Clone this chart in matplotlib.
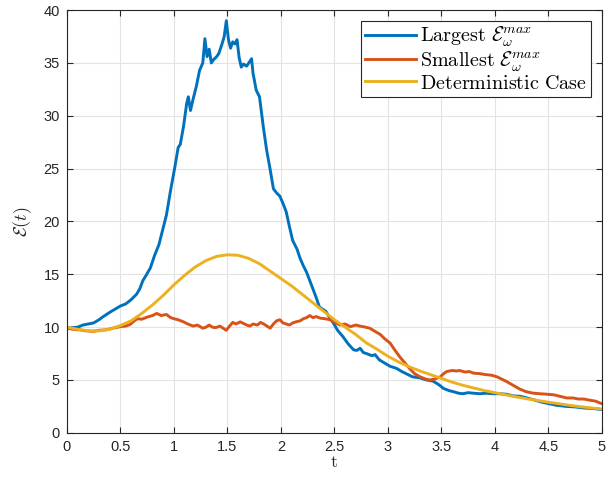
import numpy as np
import matplotlib
matplotlib.use('Agg')
import matplotlib.pyplot as plt

plt.rcParams['font.family'] = ['Liberation Sans', 'DejaVu Sans']
plt.rcParams['mathtext.fontset'] = 'cm'

# Largest E_w^max realisation
t_blue = [0.00, 0.05, 0.10, 0.15, 0.20, 0.25, 0.30, 0.34, 0.40, 0.45, 0.50, 0.55, 0.60, 0.65, 0.68,
          0.71, 0.74, 0.78, 0.82, 0.86, 0.90, 0.93, 0.97, 1.01, 1.04, 1.06, 1.09, 1.12, 1.135, 1.155,
          1.18, 1.21, 1.24, 1.27, 1.29, 1.31, 1.33, 1.35, 1.37, 1.40, 1.42, 1.45, 1.47, 1.49, 1.51,
          1.53, 1.55, 1.57, 1.59, 1.61, 1.63, 1.65, 1.68, 1.70, 1.726, 1.74, 1.77, 1.80, 1.835,
          1.866, 1.90, 1.93, 1.96, 1.99, 2.02, 2.05, 2.08, 2.11, 2.15, 2.18, 2.21,
          2.24, 2.27, 2.30, 2.33, 2.36, 2.39, 2.42, 2.45, 2.49, 2.53, 2.58, 2.63, 2.68, 2.71, 2.74,
          2.77, 2.80, 2.85, 2.88, 2.92, 2.97, 3.02, 3.08, 3.13, 3.17, 3.23, 3.30, 3.36, 3.42, 3.47,
          3.52, 3.57, 3.61, 3.66, 3.70, 3.75, 3.80, 3.86, 3.92, 3.98, 4.04, 4.11, 4.17, 4.24, 4.30,
          4.37, 4.44, 4.51, 4.58, 4.67, 4.75, 4.83, 4.92, 5.00]
e_blue = [9.9, 9.95, 10.0, 10.2, 10.3, 10.4, 10.7, 11.0, 11.4, 11.7, 12.0, 12.2, 12.6, 13.1, 13.6,
          14.4, 14.9, 15.6, 16.8, 17.8, 19.4, 20.6, 23.0, 25.2, 27.0, 27.3, 29.0, 31.2, 31.8, 30.5,
          31.6, 32.8, 34.3, 35.0, 37.3, 35.6, 36.3, 35.0, 35.3, 35.6, 35.9, 36.8, 37.5, 39.0, 37.2,
          36.4, 37.0, 36.8, 37.2, 35.5, 34.6, 34.9, 34.7, 35.0, 35.4, 34.0, 32.4, 31.8, 29.0,
          26.8, 24.9, 23.1, 22.7, 22.4, 21.7, 20.9, 19.5, 18.2, 17.4, 16.5, 15.8,
          15.2, 14.4, 13.6, 12.8, 11.9, 11.7, 11.5, 11.0, 10.4, 9.7, 9.1, 8.4, 7.85, 7.8, 8.0,
          7.6, 7.5, 7.3, 7.4, 6.9, 6.6, 6.3, 6.1, 5.8, 5.6, 5.3, 5.2, 5.0, 4.9, 4.6,
          4.2, 4.0, 3.9, 3.75, 3.7, 3.8, 3.75, 3.7, 3.75, 3.7, 3.7, 3.65, 3.5, 3.45, 3.3,
          3.1, 2.9, 2.75, 2.6, 2.5, 2.45, 2.35, 2.3, 2.2]

# Smallest E_w^max realisation
t_red = [0.00, 0.06, 0.12, 0.18, 0.25, 0.30, 0.37, 0.43, 0.50, 0.55, 0.59, 0.63, 0.66, 0.70, 0.75,
         0.80, 0.84, 0.88, 0.93, 0.97, 1.00, 1.04, 1.09, 1.13, 1.18, 1.22, 1.27, 1.30, 1.33, 1.36,
         1.39, 1.43, 1.46, 1.49, 1.52, 1.55, 1.58, 1.62, 1.65, 1.68, 1.71, 1.74, 1.78, 1.81, 1.84,
         1.87, 1.90, 1.93, 1.96, 1.99, 2.02, 2.05, 2.08, 2.11, 2.14, 2.18, 2.21, 2.24, 2.27, 2.30,
         2.33, 2.37, 2.41, 2.46, 2.50, 2.55, 2.60, 2.65, 2.70, 2.74, 2.79, 2.83, 2.88, 2.93, 2.97,
         3.02, 3.06, 3.11, 3.16, 3.21, 3.25, 3.30, 3.35, 3.39, 3.44, 3.49, 3.52, 3.55, 3.60, 3.64,
         3.67, 3.72, 3.76, 3.80, 3.86, 3.92, 3.97, 4.02, 4.06, 4.11, 4.17, 4.23, 4.29, 4.36, 4.42,
         4.49, 4.55, 4.61, 4.67, 4.73, 4.78, 4.83, 4.88, 4.94, 5.00]
e_red = [9.9, 9.8, 9.74, 9.65, 9.6, 9.7, 9.75, 9.9, 10.05, 10.1, 10.25, 10.6, 10.8, 10.75, 10.95,
         11.1, 11.3, 11.1, 11.2, 10.9, 10.8, 10.7, 10.5, 10.3, 10.1, 10.2, 9.9, 10.0, 10.2, 10.0,
         9.95, 10.1, 9.9, 9.7, 10.1, 10.45, 10.3, 10.5, 10.35, 10.2, 10.1, 10.3, 10.2, 10.45, 10.3,
         10.1, 9.9, 10.3, 10.6, 10.7, 10.4, 10.3, 10.2, 10.4, 10.5, 10.6, 10.8, 10.9, 11.1, 10.9,
         11.0, 10.85, 10.8, 10.7, 10.5, 10.2, 10.3, 10.05, 10.2, 10.1, 10.0, 9.9, 9.6, 9.3, 8.9,
         8.5, 7.9, 7.2, 6.6, 6.0, 5.6, 5.3, 5.1, 5.0, 5.1, 5.3, 5.6, 5.8, 5.9, 5.85,
         5.9, 5.75, 5.8, 5.65, 5.6, 5.5, 5.45, 5.3, 5.1, 4.85, 4.5, 4.15, 3.9, 3.75, 3.7,
         3.65, 3.6, 3.45, 3.3, 3.3, 3.2, 3.2, 3.1, 3.0, 2.75]

# Deterministic case
t_det = [0.0, 0.1, 0.2, 0.3, 0.4, 0.5, 0.6, 0.7, 0.8, 0.9, 1.0, 1.1, 1.2, 1.3, 1.4, 1.5, 1.6,
         1.7, 1.8, 1.9, 2.0, 2.1, 2.2, 2.3, 2.4, 2.5, 2.6, 2.7, 2.8, 2.9, 3.0, 3.1, 3.2, 3.3,
         3.4, 3.5, 3.6, 3.7, 3.8, 3.9, 4.0, 4.1, 4.2, 4.3, 4.4, 4.5, 4.6, 4.7, 4.8, 4.9, 5.0]
e_det = [10.0, 9.8, 9.65, 9.65, 9.8, 10.15, 10.6, 11.3, 12.1, 13.0, 14.0, 14.9, 15.7, 16.3, 16.7,
         16.85, 16.8, 16.5, 16.0, 15.3, 14.6, 13.9, 13.1, 12.3, 11.5, 10.7, 10.0, 9.3, 8.5, 7.9,
         7.25, 6.7, 6.25, 5.85, 5.5, 5.15, 4.8, 4.5, 4.25, 4.0, 3.8, 3.6, 3.4, 3.22, 3.06,
         2.9, 2.75, 2.6, 2.47, 2.36, 2.25]

fig = plt.figure(figsize=(6.08, 4.82), dpi=100)
ax = fig.add_axes([0.110, 0.102, 0.880, 0.877])

ax.plot(t_blue, e_blue, color='#0072BD', lw=2.1, label=r'$\mathrm{Largest}\ \mathcal{E}_{\omega}^{max}$')
ax.plot(t_red, e_red, color='#D95319', lw=2.1, label=r'$\mathrm{Smallest}\ \mathcal{E}_{\omega}^{max}$')
ax.plot(t_det, e_det, color='#EDB120', lw=2.1, label=r'$\mathrm{Deterministic\ Case}$')

ax.set_xlim(0, 5)
ax.set_ylim(0, 40)
ax.set_xticks(np.arange(0, 5.01, 0.5))
ax.set_xticklabels(['0', '0.5', '1', '1.5', '2', '2.5', '3', '3.5', '4', '4.5', '5'])
ax.set_yticks(np.arange(0, 41, 5))
ax.grid(True, color='#e3e3e3', lw=0.8)
ax.set_axisbelow(True)
ax.tick_params(direction='in', top=True, right=True, length=4, width=0.8,
               labelsize=10.5, colors='#262626', pad=5)
for s in ax.spines.values():
    s.set_color('#262626')
    s.set_linewidth(0.8)

ax.set_xlabel(r'$\mathrm{t}$', fontsize=13, color='#262626', labelpad=0)
ax.set_ylabel(r'$\mathcal{E}(t)$', fontsize=13, color='#262626', labelpad=7)

leg = ax.legend(loc='upper right', fontsize=14.5, handlelength=2.5, handletextpad=0.2,
                borderpad=0.2, labelspacing=0.0, fancybox=False, framealpha=1,
                edgecolor='#262626', borderaxespad=0.55)
leg.get_frame().set_linewidth(0.8)

fig.savefig('out.png', dpi=100)
